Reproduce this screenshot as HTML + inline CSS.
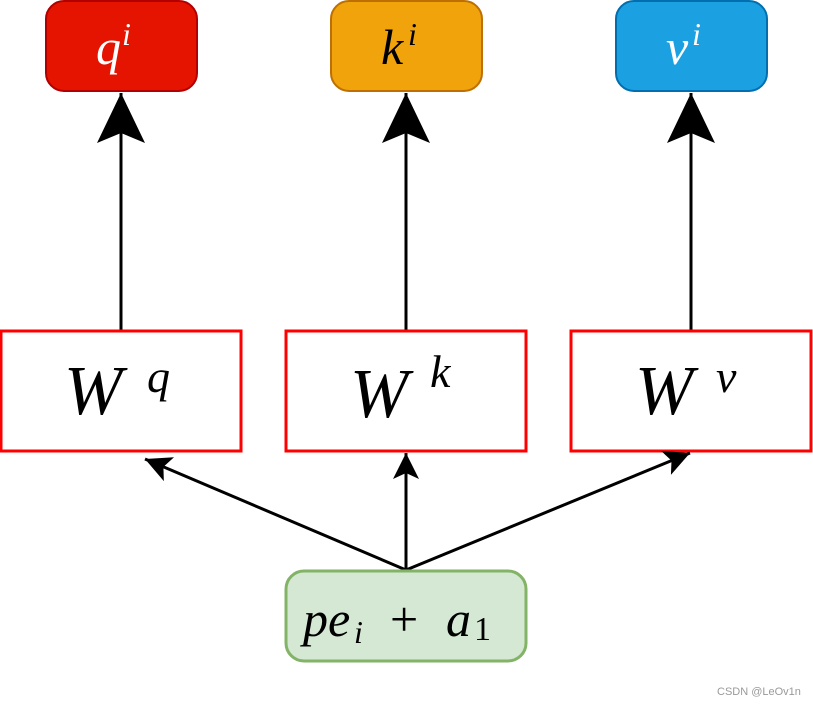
<!DOCTYPE html>
<html><head><meta charset="utf-8"><style>
html,body{margin:0;padding:0;background:#fff;}
svg{display:block}
text{font-family:"Liberation Serif",serif;font-style:italic}
</style></head><body>
<svg width="813" height="705" viewBox="0 0 813 705" xmlns="http://www.w3.org/2000/svg">
<defs>
<marker id="big" markerUnits="userSpaceOnUse" markerWidth="60" markerHeight="60" refX="50" refY="25" orient="auto">
<path d="M50,25 L0,1 L10,25 L0,49 Z" fill="#000"/>
</marker>
<marker id="sm" markerUnits="userSpaceOnUse" markerWidth="30" markerHeight="30" refX="26" refY="13" orient="auto">
<path d="M26,13 L0,0 L6,13 L0,26 Z" fill="#000"/>
</marker>
</defs>
<!-- top boxes -->
<rect x="46" y="1" width="151" height="90" rx="18" fill="#e51400" stroke="#b20000" stroke-width="2"/>
<rect x="331" y="1" width="151" height="90" rx="18" fill="#f0a30a" stroke="#bd7000" stroke-width="2"/>
<rect x="616" y="1" width="151" height="90" rx="18" fill="#1ba1e2" stroke="#006eaf" stroke-width="2"/>
<text x="96" y="64" font-size="50" fill="#fff">q</text><text x="122" y="45" font-size="32" fill="#fff">i</text>
<text x="381" y="64" font-size="50" fill="#000">k</text><text x="408" y="45" font-size="32" fill="#000">i</text>
<text x="666" y="64" font-size="50" fill="#fff">v</text><text x="692" y="45" font-size="32" fill="#fff">i</text>
<!-- vertical arrows -->
<line x1="121" y1="330" x2="121" y2="93" stroke="#000" stroke-width="3" marker-end="url(#big)"/>
<line x1="406" y1="330" x2="406" y2="93" stroke="#000" stroke-width="3" marker-end="url(#big)"/>
<line x1="691" y1="330" x2="691" y2="93" stroke="#000" stroke-width="3" marker-end="url(#big)"/>
<!-- W boxes -->
<rect x="1" y="331" width="240" height="120" fill="#fff" stroke="#ff0000" stroke-width="3"/>
<rect x="286" y="331" width="240" height="120" fill="#fff" stroke="#ff0000" stroke-width="3"/>
<rect x="571" y="331" width="240" height="120" fill="#fff" stroke="#ff0000" stroke-width="3"/>
<text x="64" y="414" font-size="70">W</text><text x="147" y="392" font-size="46">q</text>
<text x="350" y="417" font-size="70">W</text><text x="430" y="387" font-size="46">k</text>
<text x="635" y="414" font-size="70">W</text><text x="716" y="392" font-size="46">v</text>
<!-- bottom arrows -->
<line x1="406" y1="570" x2="145" y2="459" stroke="#000" stroke-width="3" marker-end="url(#sm)"/>
<line x1="406" y1="570" x2="406" y2="453" stroke="#000" stroke-width="3" marker-end="url(#sm)"/>
<line x1="406" y1="570" x2="690" y2="453" stroke="#000" stroke-width="3" marker-end="url(#sm)"/>
<!-- bottom box -->
<rect x="286" y="571" width="240" height="90" rx="18" fill="#d5e8d4" stroke="#82b366" stroke-width="3"/>
<text x="303" y="636" font-size="50">pe</text><text x="354" y="643" font-size="32">i</text>
<text x="390" y="636" font-size="50" style="font-style:normal">+</text>
<text x="446" y="636" font-size="50">a</text><text x="474" y="640" font-size="34" style="font-style:normal">1</text>
<text x="717" y="695" font-size="11" fill="#999" style="font-style:normal;font-family:'Liberation Sans',sans-serif">CSDN @LeOv1n</text>
</svg>
</body></html>
